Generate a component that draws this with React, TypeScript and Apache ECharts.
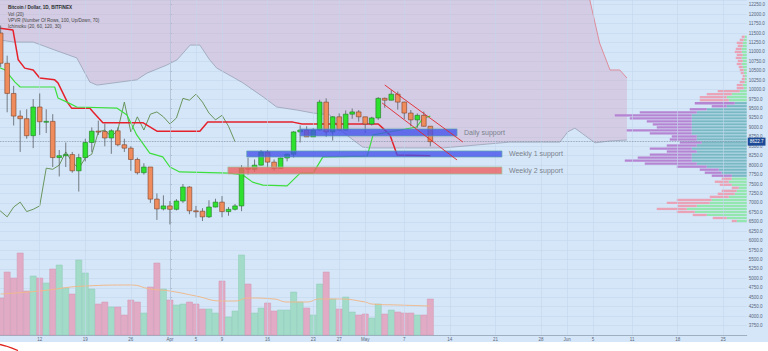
import React, { useEffect, useRef } from "react";
import * as echarts from "echarts";

// ---------- data (BTC/USD daily, Bitfinex) ----------
const firstCandleDate = "2018-03-06";
const axisOriginDate = "2018-04-01"; // x values are days from Apr 1, 2018

const opens = [11500,10700,9900,9300,9230,8780,9540,9150,9160,8200,8250,8280,7850,8200,8600,8900,8890,8720,8910,8540,8450,8150,7800,7950,7100,6840,6920,6830,7050,7420,6790,6780,6630,6890,7020,6770,6830,6920,7920,7890,8000,8350,8080,7910,8190,8290,8880,8930,8750,8930,9670,8880,9280,8930,9350,9410,9280,9090,9250,9770,9720,9880,9670,9380,9200,9320,9030];
const highs = [11700,10900,10100,9450,9480,9750,9900,9480,9350,8400,8600,8350,8300,8700,9000,9180,9100,8950,9000,8700,8500,8200,8050,7950,7250,7200,7050,7100,7500,7440,6920,6860,7070,7110,7180,6890,6970,8000,8200,8150,8400,8400,8150,8200,8300,8900,9050,9030,8980,9730,9770,9300,9370,9450,9500,9460,9280,9280,9800,9790,9990,9950,9680,9460,9370,9420,9030];
const lows = [10600,9400,9050,8350,8700,8450,8800,8850,7950,7700,7950,7800,7300,8100,8350,8800,8500,8300,8500,8350,7850,7750,7750,7000,6550,6800,6430,6800,7000,6700,6610,6520,6600,6880,6620,6660,6800,6780,7750,7820,7990,7930,7850,7900,8100,8200,8600,8750,8750,8920,8750,8650,8920,8920,9230,9150,8850,9050,9200,9520,9720,9470,9220,9030,8990,9020,8500];
const closes = [10700,9900,9300,9230,8780,9540,9150,9160,8200,8250,8280,7850,8200,8600,8900,8890,8720,8910,8540,8450,8150,7800,7950,7100,6840,6920,6830,7050,7420,6790,6780,6630,6890,7020,6770,6830,6920,7920,7890,8000,8350,8080,7910,8190,8290,8880,8930,8750,8930,9670,8880,9280,8930,9350,9410,9280,9090,9250,9770,9720,9880,9670,9380,9200,9320,9030,8622.7];
const volumes = [37,63,57,82,44,59,57,52,66,70,47,41,75,62,46,31,33,28,28,20,35,33,22,48,72,46,35,30,31,33,31,26,26,22,54,18,24,80,51,22,27,32,24,25,25,43,33,27,20,51,63,36,26,38,23,20,21,17,31,21,25,23,22,22,20,20,36];
const volumeMA = [[-26,41],[-20,44],[-13,49],[-6,50],[-3,46],[0,44],[4,39],[8,34],[10,34],[12,37],[16,36],[18,33],[21,33],[23,36],[26,36],[30,33],[31,31],[35,30],[40,29]];

// Ichimoku (20, 60, 120, 30)
const kijun = [[-26.1,11630],[-24.1,11580],[-23.3,10790],[-22.3,10570],[-21,10520],[-20,10310],[-17.7,10260],[-17.2,10180],[-15.7,9650],[-15.1,9510],[-12.3,9510],[-11.8,9410],[-10.3,9120],[-4.1,9120],[-2,8900],[4.6,8900],[5.8,9140],[18.9,9140],[20.3,9090],[32,9090],[32.7,8980],[33.8,8800],[34.9,8270],[40,8250]];
const tenkan = [[-26.1,10580],[-25.3,10520],[-23.8,10200],[-23,10070],[-17.7,10070],[-17.2,9780],[-15.8,9670],[-14.3,9540],[-8.1,9510],[-6.6,9330],[-5.1,8800],[-3.1,8320],[-1.1,8220],[0,7950],[1.5,7820],[9.2,7790],[11.2,7740],[12.7,7550],[14.3,7470],[18,7450],[20,7790],[22,7790],[23.5,8220],[30.3,8240],[31.2,8800],[37.9,9010],[38.9,9250],[40,9300]];
const cloudLower = [[-26.1,11315],[-24,11260],[-21,11260],[-17.7,11050],[-14.3,10840],[-12.3,10200],[-11.2,10120],[-5.1,10260],[-3.5,10440],[-0.5,10650],[1.1,10790],[3.1,11180],[4.6,11180],[6.1,10790],[7.2,10570],[9.7,10330],[11.2,10180],[14.3,9810],[16.4,9540],[19.5,9460],[22,9380],[24.6,9330],[26.1,8930],[29.6,8480],[30.7,8455],[41.9,8455],[52.2,8610],[59.9,8610],[61.1,8880],[62.2,8980],[63.4,8830],[65.3,8590],[67.6,8640],[70.2,8666]];
const cloudUpper = [[-26.1,12375],[64.5,12375],[66,11236],[67.6,10521],[69.1,10521],[70.2,10309]];
const chikouShift = 30;

// VPVR (Number Of Rows, 100, Up/Down, 70)
const vpRowStartPrice = 6520;
const vpRowStep = 80;
const vpTotal = [15,34,54,70,90,69,80,70,37,29,25,15,27,32,25,35,42,47,70,102,122,109,97,80,97,80,67,77,75,97,120,90,94,100,117,132,107,57,35,52,47,47,40,29,10,10,7,5,4,6,7,8,10,9,11,10,12,11,9,10,7,5];
const vpUp = [10,20,40,52,60,50,37,35,18,12,10,8,15,18,15,15,25,28,40,50,55,55,55,50,55,50,45,50,50,55,55,55,55,55,55,55,50,40,20,12,18,20,15,7,3,4,2,2,2,3,3,4,5,4,5,4,5,5,4,4,3,2];
const vpValueAreaRows = [15, 39];

// drawn annotations
const bandNames = ["Daily support", "Weekly 1 support", "Weekly 2 support"];
const bandStartDay = [20.0, 11.8, 8.9];
const bandEndDay = [44.1, 51.0, 51.0];
const bandLow = [8772, 8216, 7766];
const bandHigh = [8958, 8375, 7951];
const channelUpper = [[33.0,10123],[45.0,8613]];
const channelLower = [[32.6,9647],[44.1,8137]];
const lastPrice = 8622.7;

const dateTickDays = [-20,-13,-6,0,4,8,15,22,26,30,36,43,50,57,61,65,71,78,85];
const dateTickLabels = ["12","19","26","Apr","5","9","16","23","27","May","7","14","21","28","Jun","5","11","18","25"];
const legendLines = ["Bitcoin / Dollar, 1D, BITFINEX", "Vol (20)", "VPVR (Number Of Rows, 100, Up/Down, 70)", "Ichimoku (20, 60, 120, 30)"];

// ---------- helpers ----------
const dayOf = (s: string) => Math.round((Date.parse(s) - Date.parse(axisOriginDate)) / 86400000);
const d0 = dayOf(firstCandleDate);
const candleData = opens.map((o, i) => [d0 + i, o, closes[i], lows[i], highs[i]]);
const volumeData = volumes.map((v, i) => [d0 + i, v, closes[i] >= opens[i] ? 1 : 0]);
const chikouData = closes.map((c, i) => [d0 + i - chikouShift, c]).filter((p) => p[0] >= -27);
const vpData = vpTotal.map((t, i) => [t, vpRowStartPrice + i * vpRowStep, vpUp[i], i >= vpValueAreaRows[0] && i <= vpValueAreaRows[1] ? 1 : 0]);
const bandData = bandNames.map((_, i) => [bandStartDay[i], bandLow[i], bandEndDay[i], bandHigh[i], i]);

const FONT = '"Liberation Sans", Arial, sans-serif';
const BG = "#d5e6f8";
const GRIDLINE = "#c3d6ec";

export default function App() {
  const ref = useRef<HTMLDivElement>(null);
  useEffect(() => {
    document.body.style.margin = "0";
    const chart = echarts.init(ref.current!, null, { renderer: "svg" });
    const option: any = {
      animation: false,
      backgroundColor: "transparent",
      textStyle: { fontFamily: FONT },
      grid: { left: 0, right: 21, top: 0, bottom: 16, containLabel: false },
      xAxis: [
        {
          type: "value", min: -26.1, max: 88.6, gridIndex: 0,
          axisLine: { show: true, lineStyle: { color: "#93a3b6", width: 0.8 } },
          axisTick: { show: false },
          splitLine: { show: false },
          axisLabel: {
            customValues: dateTickDays,
            formatter: (v: number) => { const k = dateTickDays.indexOf(v); return k >= 0 ? dateTickLabels[k] : ""; },
            fontSize: 4.5, color: "#5d6878", margin: 2,
          },
        },
        { type: "value", min: 0, max: 747, inverse: true, show: false, gridIndex: 0 },
      ],
      yAxis: [
        {
          type: "value", position: "right", min: 3500, max: 12375, interval: 250, gridIndex: 0,
          axisLine: { show: true, lineStyle: { color: "#93a3b6", width: 0.8 } },
          axisTick: { show: true, length: 2, lineStyle: { color: "#93a3b6", width: 0.6 } },
          splitLine: { show: true, lineStyle: { color: GRIDLINE, width: 0.6 } },
          axisLabel: { formatter: (v: number) => v.toFixed(1), fontSize: 4.5, color: "#56647a", margin: 2, showMaxLabel: false, showMinLabel: false },
        },
        { type: "value", min: 0, max: 335, show: false, gridIndex: 0 },
      ],
      graphic: [
        ...legendLines.map((t, i) => ({
          type: "text", x: 8, y: [7, 14, 20, 26][i], z: 100,
          style: { text: t, fill: i === 0 ? "#2a2a2a" : "#444", font: `${i === 0 ? "bold " : ""}4.6px ${FONT}`, verticalAlign: "middle" },
        })),
        { type: "polyline", z: 100, shape: { points: [[0, 344.5], [6, 346], [12, 348.2], [18, 350.5]] }, style: { stroke: "#e0241c", lineWidth: 1.3, fill: "none" } },
      ],
      series: [
        {
          type: "custom", name: "cloud", xAxisIndex: 0, yAxisIndex: 0, z: 1, silent: true,
          data: [cloudLower[0]],
          renderItem: (params: any, api: any) => {
            const pts = cloudLower.map((p) => api.coord(p)).concat(cloudUpper.slice().reverse().map((p) => api.coord(p)));
            return { type: "polygon", shape: { points: pts }, style: { fill: "rgba(208,164,198,0.4)", stroke: "none" } };
          },
        },
        {
          type: "line", name: "cloudLowerEdge", data: cloudLower, symbol: "none", z: 2, silent: true,
          lineStyle: { color: "#98a2b6", width: 0.8 },
          markLine: {
            silent: true, symbol: ["none", "none"], label: { show: false },
            lineStyle: { color: GRIDLINE, width: 0.6, type: "solid" },
            data: dateTickDays.map((d) => ({ xAxis: d })),
          },
        },
        { type: "line", name: "cloudUpperEdge", data: cloudUpper.slice(1), symbol: "none", z: 2, silent: true, lineStyle: { color: "#e07a86", width: 0.8 } },
        {
          type: "custom", name: "volume", xAxisIndex: 0, yAxisIndex: 1, z: 2, silent: true, data: volumeData,
          renderItem: (params: any, api: any) => {
            const d = api.value(0), v = api.value(1), up = api.value(2);
            const w = api.size([1, 0])[0] * 0.94;
            const top = api.coord([d, v]);
            const bot = api.coord([d, 0]);
            return { type: "rect", shape: { x: top[0] - w / 2, y: top[1], width: w, height: bot[1] - top[1] },
              style: { fill: up ? "#a3dbc9" : "#e1abc5", stroke: up ? "#8dcbb6" : "#d096b1", lineWidth: 0.5 } };
          },
        },
        { type: "line", name: "volMA", xAxisIndex: 0, yAxisIndex: 1, data: volumeMA, symbol: "none", smooth: true, z: 3, silent: true, lineStyle: { color: "#efb98c", width: 1 } },
        {
          type: "custom", name: "vpvr", xAxisIndex: 1, yAxisIndex: 0, z: 3, silent: true, data: vpData,
          renderItem: (params: any, api: any) => {
            const tot = api.value(0), p = api.value(1), upv = api.value(2), va = api.value(3);
            const c0 = api.coord([0, p]);
            const cu = api.coord([upv, p]);
            const ct = api.coord([tot, p]);
            const h = 2.3;
            return { type: "group", children: [
              { type: "rect", shape: { x: cu[0], y: c0[1] - h / 2, width: c0[0] - cu[0], height: h }, style: { fill: va ? "#79b9c3" : "#93e6ad" } },
              { type: "rect", shape: { x: ct[0], y: c0[1] - h / 2, width: cu[0] - ct[0], height: h }, style: { fill: va ? "#b584d2" : "#eaa2b6" } },
            ] };
          },
        },
        { type: "line", name: "chikou", data: chikouData, symbol: "none", z: 4, silent: true, lineStyle: { color: "#5d8c4c", width: 0.9 } },
        { type: "line", name: "kijun", data: kijun, symbol: "none", z: 4, silent: true, lineStyle: { color: "#e5222c", width: 1.5 } },
        {
          type: "line", name: "tenkan", data: tenkan, symbol: "none", z: 4, silent: true, lineStyle: { color: "#3ddf3d", width: 1.2 },
          markLine: {
            silent: true, symbol: ["none", "none"],
            lineStyle: { color: "#7f90a6", width: 0.8, type: "dotted" },
            label: { show: true, position: "end", formatter: String(lastPrice), backgroundColor: "#1d4a96", color: "#fff", fontSize: 4.5, padding: [1.5, 2], distance: 1 },
            data: [{ yAxis: lastPrice }],
          },
        },
        {
          type: "custom", name: "candles", xAxisIndex: 0, yAxisIndex: 0, z: 5, silent: true, data: candleData,
          renderItem: (params: any, api: any) => {
            const d = api.value(0), o = api.value(1), c = api.value(2), l = api.value(3), h = api.value(4);
            const up = c >= o;
            const top = api.coord([d, Math.max(o, c)]);
            const bot = api.coord([d, Math.min(o, c)]);
            const lo = api.coord([d, l]);
            const hi = api.coord([d, h]);
            const w = api.size([1, 0])[0] * 0.72;
            return { type: "group", children: [
              { type: "line", shape: { x1: hi[0], y1: hi[1], x2: lo[0], y2: lo[1] }, style: { stroke: "#5b5f66", lineWidth: 0.8 } },
              { type: "rect", shape: { x: top[0] - w / 2, y: top[1], width: w, height: Math.max(bot[1] - top[1], 0.9) },
                style: { fill: up ? "#2fe12f" : "#f08b5c", stroke: up ? "#1f7a22" : "#7c432b", lineWidth: 0.6 } },
            ] };
          },
        },
        {
          type: "custom", name: "bands", xAxisIndex: 0, yAxisIndex: 0, z: 6, silent: true, data: bandData,
          renderItem: (params: any, api: any) => {
            const a = api.coord([api.value(0), api.value(3)]);
            const b = api.coord([api.value(2), api.value(1)]);
            const i = api.value(4);
            const red = i === 2;
            return { type: "group", children: [
              { type: "rect", shape: { x: a[0], y: a[1], width: b[0] - a[0], height: b[1] - a[1] },
                style: { fill: red ? "rgba(236,96,98,0.8)" : "rgba(66,80,236,0.78)", stroke: red ? "#9bc79b" : "#5aa3b0", lineWidth: 0.7 } },
              { type: "text", x: b[0] + 7, y: (a[1] + b[1]) / 2,
                style: { text: bandNames[i], fill: "#7b828c", font: `7px ${FONT}`, verticalAlign: "middle", align: "left" } },
            ] };
          },
        },
        { type: "line", name: "channelUpper", data: channelUpper, symbol: "none", z: 7, silent: true, lineStyle: { color: "#e2272d", width: 0.9 } },
        { type: "line", name: "channelLower", data: channelLower, symbol: "none", z: 7, silent: true, lineStyle: { color: "#e2272d", width: 0.9 } },
      ],
    };
    chart.setOption(option);
    return () => chart.dispose();
  }, []);
  return (
    <div
      ref={ref}
      style={{
        position: "absolute", left: 0, top: 0, width: 768, height: 351,
        background: `linear-gradient(${BG} 0px, ${BG} 342px, #ffffff 342px, #ffffff 351px)`,
      }}
    />
  );
}
